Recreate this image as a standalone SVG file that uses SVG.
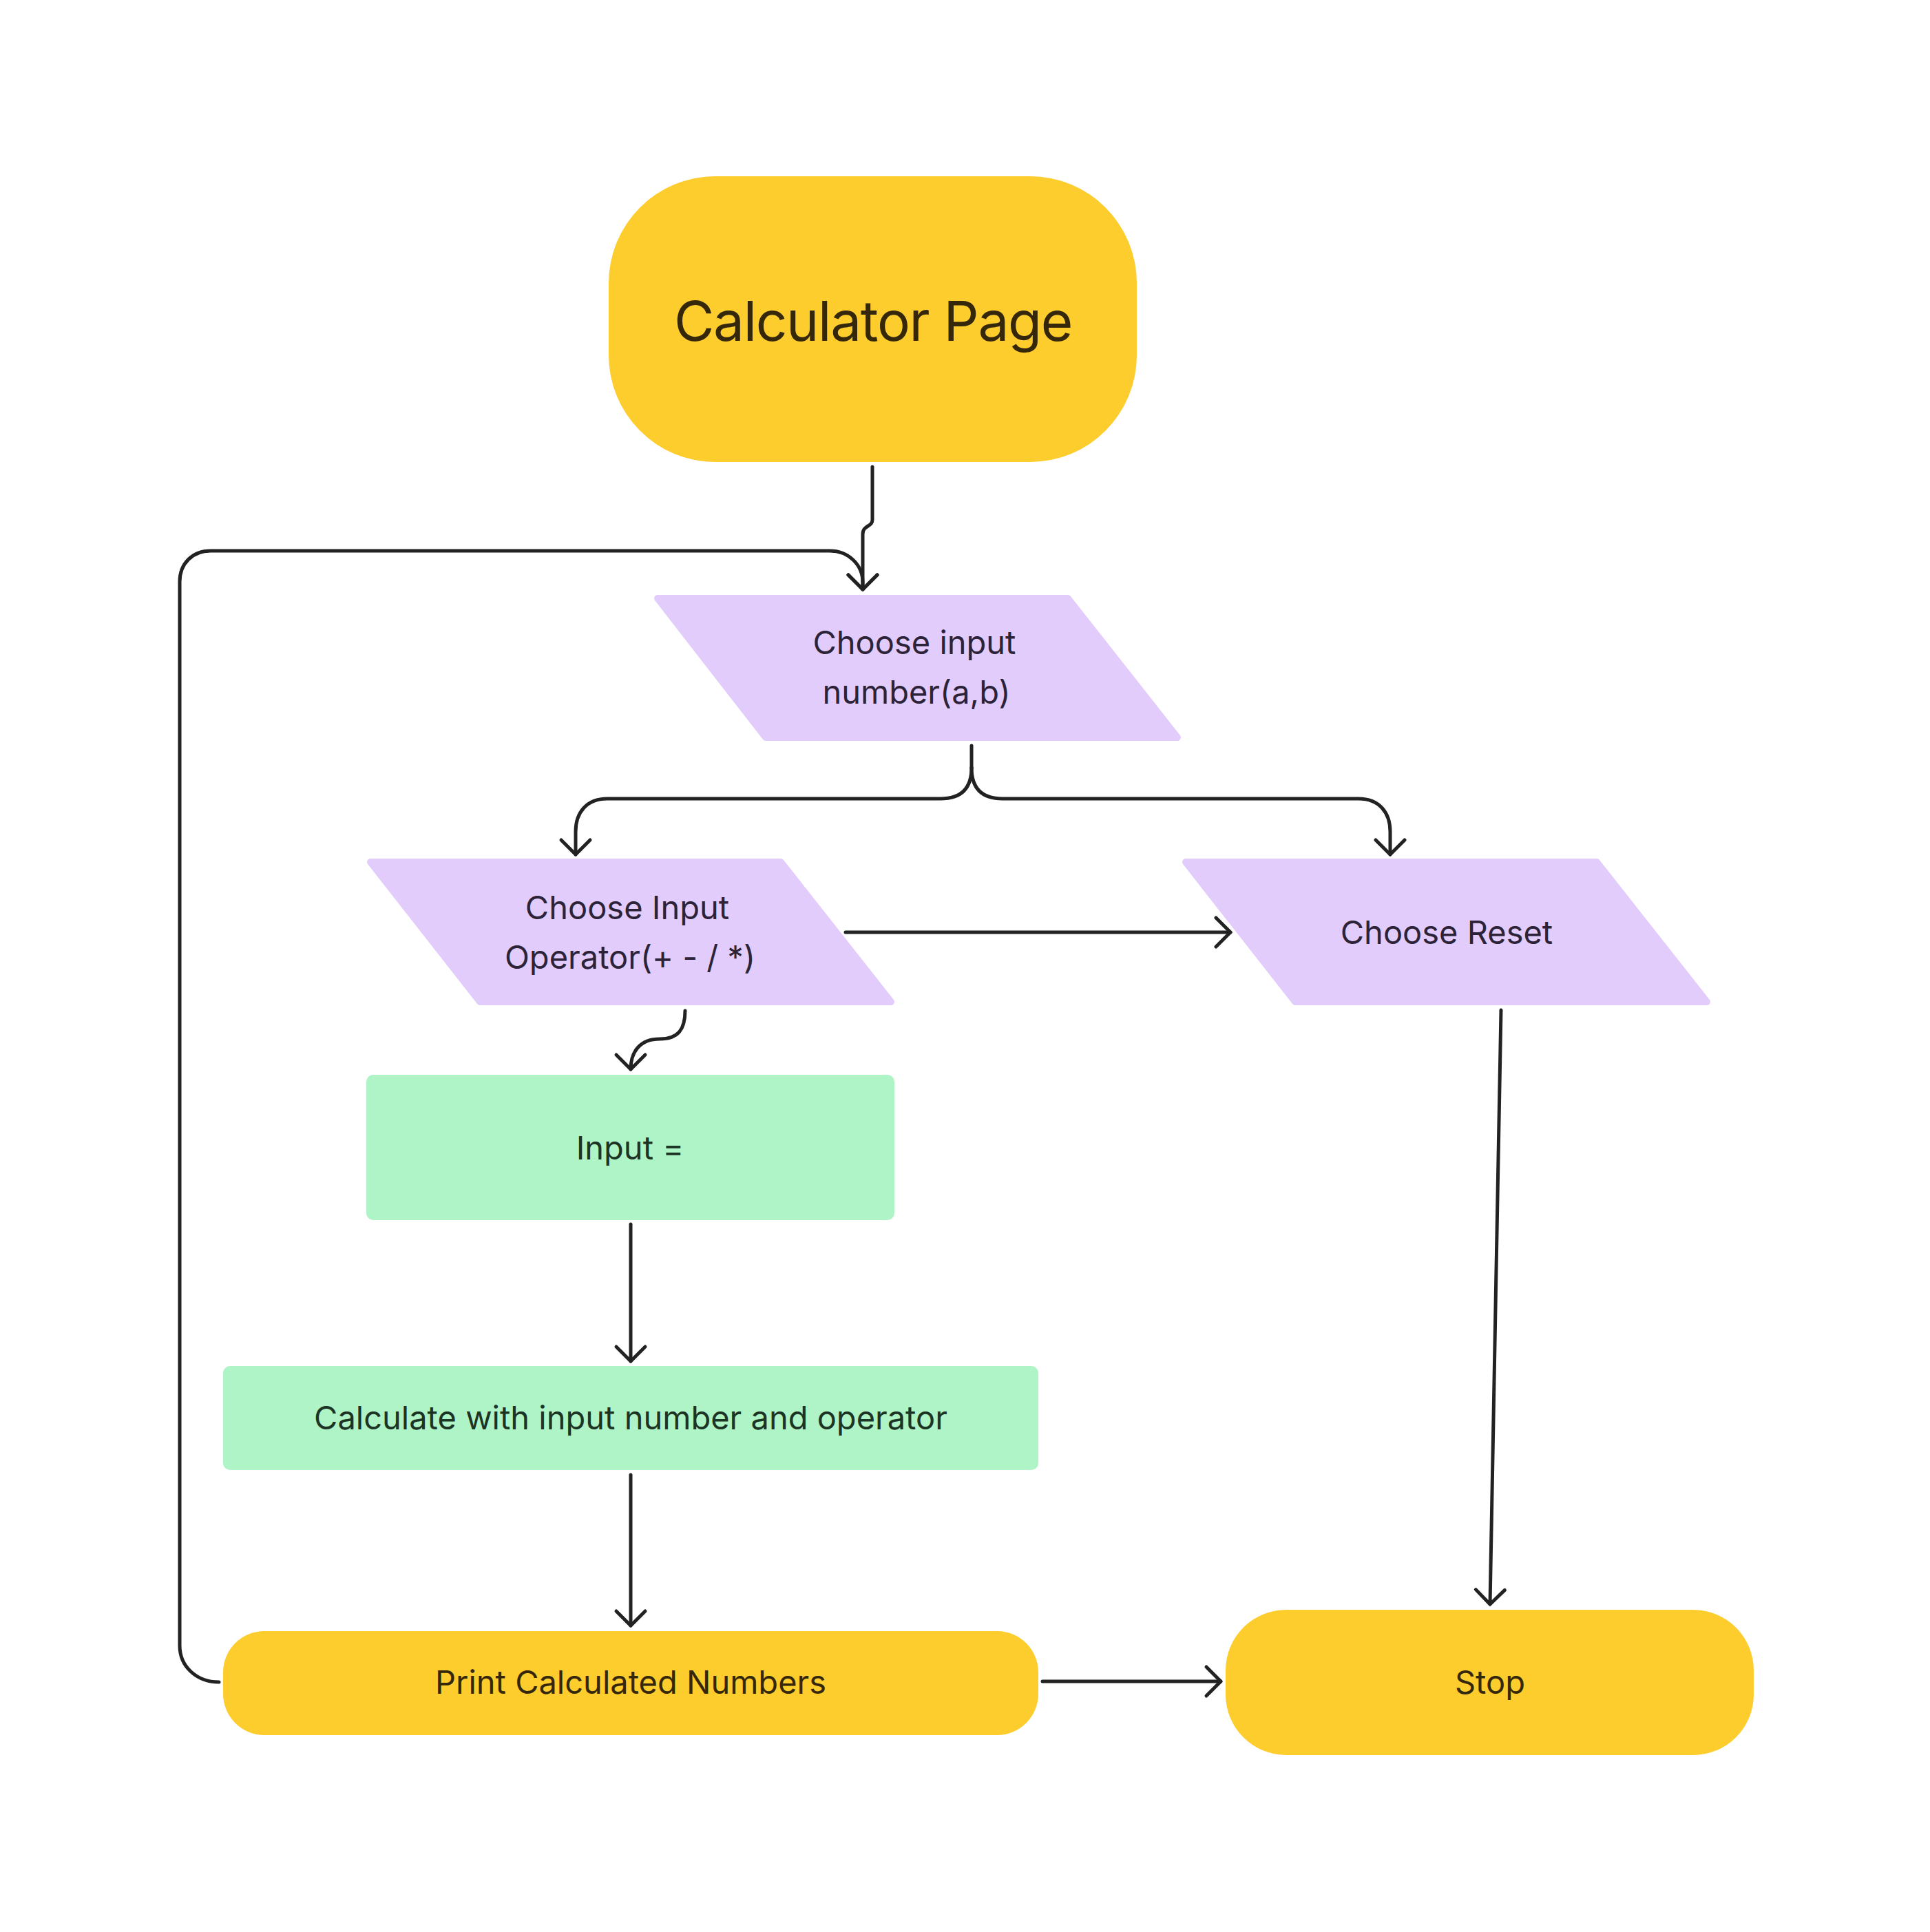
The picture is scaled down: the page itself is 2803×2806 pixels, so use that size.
<svg xmlns="http://www.w3.org/2000/svg" width="2803" height="2806" viewBox="0 0 2803 2806">
<style>
  .lbl { font-family: Inter, "Noto Sans", "Liberation Sans", sans-serif; text-anchor: middle; }
  .yellow { fill: #FDCC2D; }
  .purple { fill: #E2CCFC; stroke: #E2CCFC; stroke-width: 10; stroke-linejoin: round; }
  .green { fill: #AFF4C6; }
  .ty { fill: #35280A; }
  .tp { fill: #2C2338; }
  .tg { fill: #1C3424; }
  .conn { fill: none; stroke: #222222; stroke-width: 5; stroke-linecap: round; stroke-linejoin: round; marker-end: url(#arrow); }
  .conn0 { fill: none; stroke: #222222; stroke-width: 5; stroke-linecap: round; stroke-linejoin: round; }
</style>
<defs>
  <marker id="arrow" markerUnits="userSpaceOnUse" viewBox="-30 -30 40 60" markerWidth="40" markerHeight="60" refX="0" refY="0" orient="auto">
    <path d="M-21,-21 L0,0 L-21,21" fill="none" stroke="#222222" stroke-width="5" stroke-linecap="round" stroke-linejoin="round"/>
  </marker>
</defs>
<rect width="2803" height="2806" fill="#FFFFFF"/>

<g id="connectors">
  <path class="conn" d="M1267,678 L1267,755 C1267,766 1253,762 1253,776 L1253,856"/>
  <path class="conn" d="M318,2443 C285,2443 261,2420 261,2390 L261,845 C261,818 280,800 306,800 L1205,800 C1232,800 1253,820 1253,846 L1253,856"/>
  <path class="conn0" d="M1411,1083 L1411,1115"/>
  <path class="conn" d="M1411,1115 C1411,1145 1396,1160 1366,1160 L882,1160 C852,1160 836,1180 836,1208 L836,1241"/>
  <path class="conn" d="M1411,1115 C1411,1145 1426,1160 1456,1160 L1973,1160 C2003,1160 2019,1180 2019,1208 L2019,1241"/>
  <path class="conn" d="M1228,1354 L1787,1354"/>
  <path class="conn" d="M995,1468 C995,1495 985,1509 958,1509 C930,1509 916,1527 916,1553"/>
  <path class="conn" d="M916,1778 L916,1977"/>
  <path class="conn" d="M916,2142 L916,2361"/>
  <path class="conn" d="M1514,2442 L1773,2442"/>
  <path class="conn" d="M2180,1467 L2164,2330"/>
</g>

<g id="calculator-page">
  <rect class="yellow" x="884" y="256" width="767" height="415" rx="155" ry="155"/>
  <text class="lbl ty" x="1268" y="495" font-size="80" letter-spacing="-1.3">Calculator Page</text>
</g>

<g id="choose-input-number">
  <polygon class="purple" points="955,869 1551,869 1710,1071 1112,1071"/>
  <text class="lbl tp" x="1328" y="950" font-size="47">Choose input</text>
  <text class="lbl tp" x="1331" y="1022" font-size="47">number(a,b)</text>
</g>

<g id="choose-input-operator">
  <polygon class="purple" points="538,1252 1134,1252 1294,1455 697,1455"/>
  <text class="lbl tp" x="911" y="1335" font-size="47">Choose Input</text>
  <text class="lbl tp" x="915" y="1407" font-size="47">Operator(+ - / *)</text>
</g>

<g id="choose-reset">
  <polygon class="purple" points="1722,1252 2319,1252 2479,1455 1881,1455"/>
  <text class="lbl tp" x="2101" y="1371" font-size="47">Choose Reset</text>
</g>

<g id="input-equals">
  <rect class="green" x="532" y="1561" width="767" height="211" rx="10" ry="10"/>
  <text class="lbl tg" x="915" y="1684" font-size="47">Input =</text>
</g>

<g id="calculate">
  <rect class="green" x="324" y="1984" width="1184" height="151" rx="10" ry="10"/>
  <text class="lbl tg" x="916" y="2076" font-size="47">Calculate with input number and operator</text>
</g>

<g id="print-calculated">
  <rect class="yellow" x="324" y="2369" width="1184" height="151" rx="60" ry="60"/>
  <text class="lbl ty" x="916" y="2460" font-size="47">Print Calculated Numbers</text>
</g>

<g id="stop">
  <rect class="yellow" x="1780" y="2338" width="767" height="211" rx="88" ry="88"/>
  <text class="lbl ty" x="2164" y="2460" font-size="47">Stop</text>
</g>
</svg>
